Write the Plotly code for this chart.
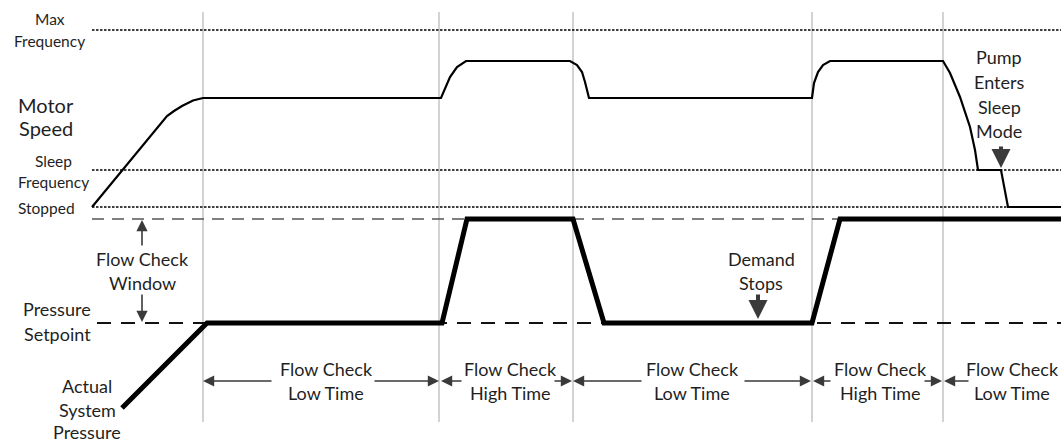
import plotly.graph_objects as go

W, H = 1061, 442

# Reference levels (canvas units, y grows downward)
level_x0 = 92
max_freq_y = 30
sleep_freq_y = 170
stopped_y = 207
window_top_y = 219
setpoint_y = 323

# Phase boundaries along the time axis
phase_x = [203, 439, 573, 812, 943]
phase_top, phase_bottom = 12, 422

# Motor speed trace
motor_t = [92, 167, 174, 182, 193, 203, 441, 445, 450, 457, 466, 570, 577, 582, 585, 589,
           812, 814, 818, 823, 830, 943, 950, 960, 970, 975, 978, 1001, 1008, 1061]
motor_y = [207, 116, 111, 106, 100.5, 98, 98, 88, 77, 67, 61, 61, 65, 72, 82, 98,
           98, 83, 72, 65, 61, 61, 73, 97, 127, 150, 170, 170, 207, 207]

# Actual system pressure trace
pressure_t = [122, 207, 442, 467, 573, 604, 812, 840, 1061]
pressure_y = [408, 323, 323, 219, 219, 323, 323, 219, 219]

# Phase duration labels along the bottom
phase_line1 = ["Flow Check", "Flow Check", "Flow Check", "Flow Check", "Flow Check"]
phase_line2 = ["Low Time", "High Time", "Low Time", "High Time", "Low Time"]
phase_label_x = [326, 510, 692, 880, 1012]
# arrow tips and tails: (left tip, left tail, right tail, right tip)
phase_arrows = [(203, 273, 373, 439), (441, 463, 553, 572), (573, 643, 743, 811),
                (813, 832, 923, 942), (944, 970, None, None)]
phase_arrow_y = 381

FONT = "Lato"
TXT = "#1f1f1f"
ARROW = "#3a3a3a"

fig = go.Figure()

# phase boundaries
for x in phase_x:
    fig.add_trace(go.Scatter(x=[x, x], y=[phase_top, phase_bottom], mode="lines",
                             line=dict(color="#a6a6a6", width=1), hoverinfo="skip"))

# frequency levels (dotted)
for y in [max_freq_y, sleep_freq_y, stopped_y]:
    fig.add_trace(go.Scatter(x=[level_x0, W], y=[y, y], mode="lines",
                             line=dict(color="#000000", width=1.3, dash="2.5px,1.5px"),
                             hoverinfo="skip"))

# flow check window top (dashed) and pressure setpoint (dashed)
fig.add_trace(go.Scatter(x=[level_x0, W], y=[window_top_y, window_top_y], mode="lines",
                         line=dict(color="#555555", width=1.6, dash="12px,8px"),
                         hoverinfo="skip"))
fig.add_trace(go.Scatter(x=[97, W], y=[setpoint_y, setpoint_y], mode="lines",
                         line=dict(color="#111111", width=2, dash="14px,10px"),
                         hoverinfo="skip"))

# motor speed
fig.add_trace(go.Scatter(x=motor_t, y=motor_y, mode="lines",
                         line=dict(color="#000000", width=2.2), hoverinfo="skip"))

# actual system pressure
fig.add_trace(go.Scatter(x=pressure_t, y=pressure_y, mode="lines",
                         line=dict(color="#000000", width=5), hoverinfo="skip"))

annotations = []


def label(x, y, text, size):
    annotations.append(dict(x=x, y=y, xref="x", yref="y", text=text, showarrow=False,
                            xanchor="center", yanchor="middle",
                            font=dict(family=FONT, size=size, color=TXT)))


def arrow(x, y, ax, ay, width=1.6, size=1.4):
    annotations.append(dict(x=x, y=y, ax=ax, ay=ay, xref="x", yref="y", axref="x",
                            ayref="y", text="", showarrow=True, arrowhead=2,
                            arrowsize=size, arrowwidth=width, arrowcolor=ARROW))


SMALL, MID, BIG = 15.5, 18, 20

# left-side level labels
label(50, 19, "Max", SMALL)
label(49, 41, "Frequency", SMALL)
label(46, 105, "Motor", BIG)
label(46, 128, "Speed", BIG)
label(53, 161, "Sleep", SMALL)
label(53, 182, "Frequency", SMALL)
label(46, 208, "Stopped", SMALL)

label(142, 259, "Flow Check", MID)
label(142, 283, "Window", MID)
arrow(142, 220, 142, 247)
arrow(142, 322, 142, 293)

label(57, 309, "Pressure", MID)
label(57, 334, "Setpoint", MID)
label(87, 386, "Actual", MID)
label(87, 410, "System", MID)
label(87, 432, "Pressure", MID)

label(761, 259, "Demand", MID)
label(761, 283, "Stops", MID)
arrow(758, 319, 758, 293, width=4, size=0.95)

label(999, 57, "Pump", MID)
label(999, 82, "Enters", MID)
label(999, 107, "Sleep", MID)
label(999, 131, "Mode", MID)
arrow(1001, 168, 1001, 145, width=4, size=0.95)

for cx, l1, l2, (lt, ltail, rtail, rt) in zip(phase_label_x, phase_line1, phase_line2,
                                              phase_arrows):
    label(cx, 369, l1, MID)
    label(cx, 393, l2, MID)
    arrow(lt, phase_arrow_y, ltail, phase_arrow_y)
    if rt is not None:
        arrow(rt, phase_arrow_y, rtail, phase_arrow_y)

fig.update_layout(
    width=W, height=H,
    margin=dict(l=0, r=0, t=0, b=0),
    paper_bgcolor="white", plot_bgcolor="white",
    showlegend=False,
    xaxis=dict(range=[0, W], visible=False, fixedrange=True),
    yaxis=dict(range=[H, 0], visible=False, fixedrange=True),
    annotations=annotations,
)

fig.write_html("out.html")
